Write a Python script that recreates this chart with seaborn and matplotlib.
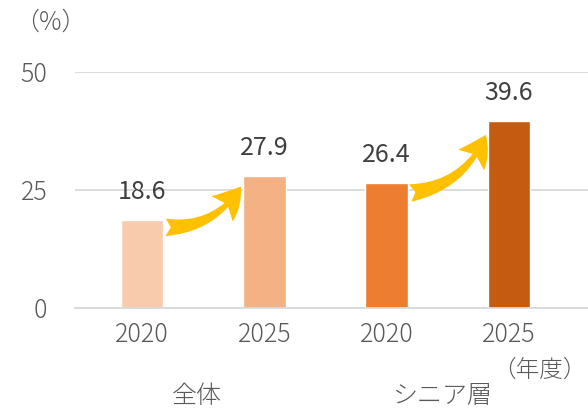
import seaborn as sns
import pandas as pd
import matplotlib.pyplot as plt
from matplotlib.patches import FancyArrowPatch

sns.set_style("white")
plt.rcParams["font.family"] = ["Noto Sans CJK JP", "DejaVu Sans"]

years = ["2020", "2025", "2020", "2025"]
groups = ["全体", "全体", "シニア層", "シニア層"]
values = [18.6, 27.9, 26.4, 39.6]
colors = ["#F8CBAD", "#F4B183", "#ED7D31", "#C55A11"]
yticks = [0, 25, 50]

df = pd.DataFrame({"key": [f"{g}{y}" for g, y in zip(groups, years)], "value": values})

fig = plt.figure(figsize=(5.88, 4.11), dpi=100)
ax = fig.add_axes([75 / 588, 103 / 411, 1 - 75 / 588, (308 - 72) / 411])

sns.barplot(data=df, x="key", y="value", hue="key", palette=colors,
            width=0.35, legend=False, ax=ax, saturation=1)

ax.set_ylim(0, 50)
ax.set_xlim(-0.548, 3.646)
ax.set_yticks(yticks)
ax.set_xticks(range(len(years)))
ax.set_xticklabels(years)
ax.yaxis.grid(True, color="#D9D9D9", linewidth=1.3)
ax.set_axisbelow(True)
for s in ["top", "right", "left"]:
    ax.spines[s].set_visible(False)
ax.spines["bottom"].set_color("#D9D9D9")
ax.spines["bottom"].set_linewidth(1.3)
ax.tick_params(axis="both", length=0, labelsize=18, colors="#595959", pad=10)
ax.tick_params(axis="y", pad=20)
for lbl in ax.get_xticklabels() + ax.get_yticklabels():
    lbl.set_fontweight("light")
ax.set(xlabel="", ylabel="")

# value labels
for i, v in enumerate(values):
    ax.text(i, v + 3.2, f"{v}", ha="center", va="bottom", fontsize=18, color="#404040")

# arrows between years
for i in (0, 2):
    start = (i + 0.17, values[i] * 0.92)
    end = (i + 0.82, values[i + 1] * 0.94)
    arr = FancyArrowPatch(start, end, connectionstyle="arc3,rad=0.3",
                          arrowstyle="fancy,head_length=1.5,head_width=1.7,tail_width=0.9",
                          mutation_scale=14, color="#FFC000", lw=0)
    ax.add_patch(arr)

# group labels
for i, g in ((0.45, "全体"), (2.45, "シニア層")):
    ax.text(i, -0.37, g, transform=ax.get_xaxis_transform(), ha="center", va="center",
            fontsize=18, color="#595959", fontweight="light")

fig.text(14 / 588, 1 - 22 / 411, "（%）", ha="left", va="center", fontsize=18,
         color="#595959", fontweight="light")
fig.text(587 / 588, 1 - 370 / 411, "（年度）", ha="right", va="center", fontsize=17,
         color="#595959", fontweight="light")

fig.savefig("out.png", dpi=100)
